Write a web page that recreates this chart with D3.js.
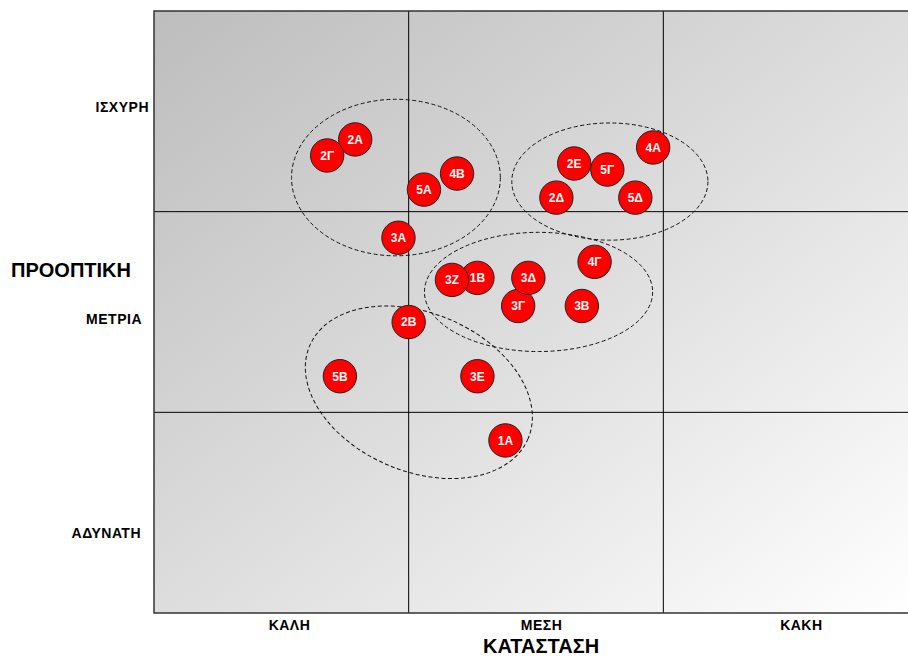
<!DOCTYPE html>
<html>
<head>
<meta charset="utf-8">
<script src="https://cdn.jsdelivr.net/npm/d3@7"></script>
<style>
  body { margin: 0; background: #fff; }
  svg { display: block; font-family: "Liberation Sans", Arial, sans-serif; }
</style>
</head>
<body>
<svg id="matrix" width="908" height="657"></svg>
<script>
// data: x = ΚΑΤΑΣΤΑΣΗ (0..3), y = ΠΡΟΟΠΤΙΚΗ (0..3)
const codes = ["2A", "2Γ", "5A", "4B", "3A", "2E", "5Γ", "4A", "2Δ", "5Δ",
               "1B", "3Z", "3Γ", "3Δ", "4Γ", "3B", "2B", "5B", "3E", "1A"];
const xVals = [0.79, 0.68, 1.06, 1.19, 0.96, 1.65, 1.78, 1.96, 1.58, 1.89,
               1.27, 1.17, 1.43, 1.47, 1.73, 1.68, 1.00, 0.73, 1.27, 1.38];
const yVals = [2.36, 2.28, 2.11, 2.19, 1.87, 2.24, 2.21, 2.32, 2.07, 2.07,
               1.67, 1.66, 1.53, 1.67, 1.75, 1.53, 1.45, 1.18, 1.18, 0.86];

// dashed groupings: centre, radii (data units), tilt in degrees
const groupCx = [0.95, 1.79, 1.51, 1.04];
const groupCy = [2.17, 2.15, 1.60, 1.10];
const groupRx = [0.41, 0.385, 0.448, 0.466];
const groupRy = [0.39, 0.292, 0.297, 0.394];
const groupTilt = [0, 0, 0, 23];

const xTickLabels = ["ΚΑΛΗ", "ΜΕΣΗ", "ΚΑΚΗ"];
const xTickPos = [0.53, 1.52, 2.54];
const yTickLabels = ["ΙΣΧΥΡΗ", "ΜΕΤΡΙΑ", "ΑΔΥΝΑΤΗ"];
const yTickPos = [2.52, 1.465, 0.40];
const gridBreaks = [1, 2];

const svg = d3.select("#matrix");
const margin = { top: 11, left: 154, bottom: 44 };
const plotW = 764, plotH = 602;

const x = d3.scaleLinear().domain([0, 3]).range([margin.left, margin.left + plotW]);
const y = d3.scaleLinear().domain([0, 3]).range([margin.top + plotH, margin.top]);

const defs = svg.append("defs");
const grad = defs.append("linearGradient")
  .attr("id", "bg")
  .attr("x1", 0).attr("y1", 0).attr("x2", 1).attr("y2", 1);
grad.append("stop").attr("offset", "0%").attr("stop-color", "#bdbdbd");
grad.append("stop").attr("offset", "50%").attr("stop-color", "#dddddd");
grad.append("stop").attr("offset", "100%").attr("stop-color", "#ffffff");

svg.append("rect")
  .attr("x", x(0)).attr("y", y(3))
  .attr("width", x(3) - x(0)).attr("height", y(0) - y(3))
  .attr("fill", "url(#bg)");

// quadrant lines
svg.append("g").selectAll("line")
  .data(gridBreaks).join("line")
  .attr("x1", d => x(d)).attr("x2", d => x(d))
  .attr("y1", y(0)).attr("y2", y(3))
  .attr("stroke", "#000").attr("stroke-width", 1);
svg.append("g").selectAll("line")
  .data(gridBreaks).join("line")
  .attr("y1", d => y(d)).attr("y2", d => y(d))
  .attr("x1", x(0)).attr("x2", x(3))
  .attr("stroke", "#000").attr("stroke-width", 1);

svg.append("rect")
  .attr("x", x(0)).attr("y", y(3))
  .attr("width", x(3) - x(0)).attr("height", y(0) - y(3))
  .attr("fill", "none")
  .attr("stroke", "#333").attr("stroke-width", 1.5);

// tick labels
const xAxis = d3.axisBottom(x).tickValues(xTickPos)
  .tickFormat((d, i) => xTickLabels[i]).tickSize(0).tickPadding(7);
svg.append("g")
  .attr("transform", `translate(0,${y(0)})`)
  .call(xAxis)
  .call(g => g.select(".domain").remove())
  .selectAll("text")
  .attr("font-family", "Liberation Sans, Arial, sans-serif")
  .attr("font-size", 14).attr("letter-spacing", 0.5)
  .attr("font-weight", "bold").attr("fill", "#000");

const yShift = [0, -7, -8];
const yAxis = d3.axisLeft(y).tickValues(yTickPos)
  .tickFormat((d, i) => yTickLabels[i]).tickSize(0).tickPadding(5);
svg.append("g")
  .attr("transform", `translate(${x(0)},0)`)
  .call(yAxis)
  .call(g => g.select(".domain").remove())
  .selectAll("text")
  .attr("dx", (d, i) => yShift[i])
  .attr("font-family", "Liberation Sans, Arial, sans-serif")
  .attr("font-size", 14).attr("letter-spacing", 0.5)
  .attr("font-weight", "bold").attr("fill", "#000");

// axis titles
svg.append("text")
  .attr("x", 11).attr("y", 277)
  .attr("font-size", 20).attr("font-weight", "bold")
  .text("ΠΡΟΟΠΤΙΚΗ");
svg.append("text")
  .attr("x", x(1.52)).attr("y", 653)
  .attr("text-anchor", "middle")
  .attr("font-size", 20).attr("font-weight", "bold")
  .text("ΚΑΤΑΣΤΑΣΗ");

// dashed group outlines
const kx = x(1) - x(0), ky = y(0) - y(1);
svg.append("g").selectAll("ellipse")
  .data(groupCx.map((c, i) => i)).join("ellipse")
  .attr("transform", i => `translate(${x(groupCx[i])},${y(groupCy[i])}) rotate(${groupTilt[i]})`)
  .attr("rx", i => groupRx[i] * kx)
  .attr("ry", i => groupRy[i] * ky)
  .attr("fill", "none")
  .attr("stroke", "#111").attr("stroke-width", 1)
  .attr("stroke-dasharray", "4,2.5");

// bubbles
const items = codes.map((c, i) => ({ code: c, x: xVals[i], y: yVals[i] }));
const bubble = svg.append("g").selectAll("g")
  .data(items).join("g")
  .attr("transform", d => `translate(${x(d.x)},${y(d.y)})`);
bubble.append("circle")
  .attr("r", 16.7)
  .attr("fill", "#ff0000")
  .attr("stroke", "#222").attr("stroke-width", 1);
bubble.append("text")
  .attr("text-anchor", "middle")
  .attr("dy", "0.36em")
  .attr("font-size", 12).attr("font-weight", "bold")
  .attr("fill", "#fff")
  .text(d => d.code);
</script>
</body>
</html>
